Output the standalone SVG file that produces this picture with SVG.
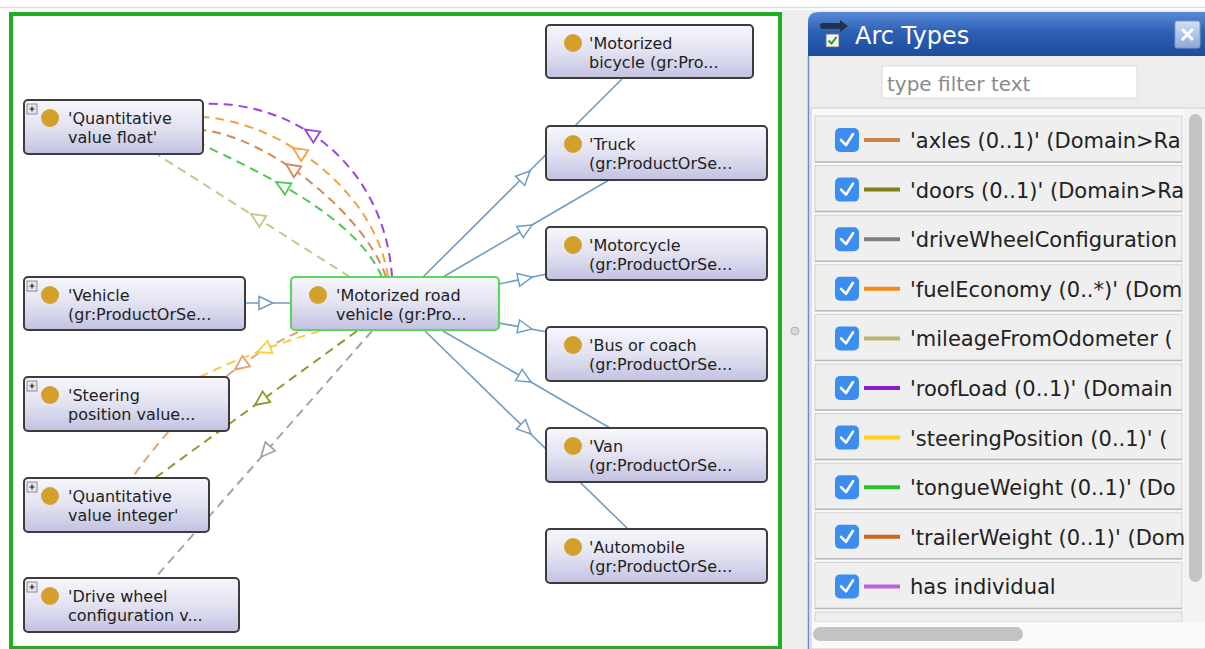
<svg xmlns="http://www.w3.org/2000/svg" xmlns:xlink="http://www.w3.org/1999/xlink" width="1205" height="649" viewBox="0 0 1205 649">
  <style>
    .node { fill: url(#nodeFill); stroke: #3c3c3c; stroke-width: 2; }
    .node.focus { stroke: #5cd65c; stroke-width: 2.2; }
    .dot { fill: #d4a02c; }
    .lbl { font-family: "DejaVu Sans", "Liberation Sans", sans-serif; font-size: 16px; fill: #222; }
    .plus rect { fill: #e6e6ee; stroke: #777; stroke-width: 0.8; }
    .plus path { stroke: #222; stroke-width: 1.2; }
    .isa { fill: none; stroke: #6f9cc4; stroke-width: 1.6; }
    .isa-head { fill: #fff; stroke: #6f9cc4; stroke-width: 1.5; }
    .arc { fill: none; stroke-width: 2; stroke-dasharray: 9 6; }
    .arc-head { fill: #fff; stroke-width: 1.8; }
    .row { fill: #efefef; stroke: #d2d2d2; stroke-width: 1; }
    .rowline { stroke: #b9b9b9; stroke-width: 1.5; }
    .chk { fill: #3b8ef0; }
    .tick { fill: none; stroke: #fff; stroke-width: 2.6; stroke-linecap: round; stroke-linejoin: round; }
    .key { stroke-width: 4; }
    .item { font-family: "DejaVu Sans", "Liberation Sans", sans-serif; font-size: 21px; fill: #222; }
  </style>
  <defs>
    <linearGradient id="nodeFill" x1="0" y1="0" x2="0" y2="1">
      <stop offset="0" stop-color="#f7f7fc"/>
      <stop offset="0.5" stop-color="#e2e2f2"/>
      <stop offset="1" stop-color="#c2c2e2"/>
    </linearGradient>
    <linearGradient id="headFill" x1="0" y1="0" x2="0" y2="1">
      <stop offset="0" stop-color="#5a8ad6"/>
      <stop offset="0.45" stop-color="#2d60b6"/>
      <stop offset="1" stop-color="#1d4c9c"/>
    </linearGradient>
    <linearGradient id="closeFill" x1="0" y1="0" x2="0" y2="1">
      <stop offset="0" stop-color="#d4e0f4"/>
      <stop offset="1" stop-color="#8ea8d6"/>
    </linearGradient>
    <path id="ah" d="M0,0 L-14,-6.5 L-14,6.5 Z"/>
  </defs>

  <!-- window background -->
  <rect x="0" y="0" width="1205" height="649" fill="#ffffff"/>
  <line x1="0" y1="7.5" x2="1205" y2="7.5" stroke="#dcdcdc" stroke-width="1.5"/>
  <rect x="782" y="10" width="423" height="639" fill="#ededed"/>
  <ellipse cx="795" cy="331" rx="4" ry="4" fill="#d6d6d6" stroke="#b4b4b4" stroke-width="1"/>

  <!-- graph pane -->
  <rect x="11" y="14" width="769" height="634" fill="#ffffff" stroke="#1fb01f" stroke-width="4"/>

  <!-- connectors -->
  <g id="connectors">
    <!-- subclass links -->
    <line class="isa" x1="245" y1="303" x2="291" y2="303"/>
    <line class="isa" x1="423" y1="277" x2="622" y2="79"/>
    <line class="isa" x1="443" y1="277" x2="609" y2="180"/>
    <line class="isa" x1="499" y1="284" x2="547" y2="274"/>
    <line class="isa" x1="499" y1="323" x2="547" y2="332"/>
    <line class="isa" x1="443" y1="331" x2="610" y2="428"/>
    <line class="isa" x1="425" y1="331" x2="628" y2="529"/>
    <use xlink:href="#ah" class="isa-head" transform="translate(273,303)"/>
    <use xlink:href="#ah" class="isa-head" transform="translate(530,171) rotate(-45)"/>
    <use xlink:href="#ah" class="isa-head" transform="translate(532,225) rotate(-30.3)"/>
    <use xlink:href="#ah" class="isa-head" transform="translate(532,277) rotate(-12)"/>
    <use xlink:href="#ah" class="isa-head" transform="translate(532,329) rotate(11)"/>
    <use xlink:href="#ah" class="isa-head" transform="translate(531,382) rotate(29.9)"/>
    <use xlink:href="#ah" class="isa-head" transform="translate(531,434) rotate(44.3)"/>

    <!-- property arcs to 'Quantitative value float' -->
    <path class="arc" stroke="#9b45d6" d="M392,277 C385,170 300,100 203,104"/>
    <path class="arc" stroke="#f2a444" d="M388,277 C375,190 280,122 203,117"/>
    <path class="arc" stroke="#d48a58" d="M386,277 C365,215 270,138 203,130"/>
    <path class="arc" stroke="#4ec84e" d="M382,277 C355,215 255,170 203,145"/>
    <line class="arc" stroke="#c8c48e" x1="350" y1="277" x2="158" y2="155"/>
    <use xlink:href="#ah" class="arc-head" stroke="#9b45d6" transform="translate(305,129.5) rotate(-147.3)"/>
    <use xlink:href="#ah" class="arc-head" stroke="#f2a444" transform="translate(293,148) rotate(-147.3)"/>
    <use xlink:href="#ah" class="arc-head" stroke="#d48a58" transform="translate(286,164) rotate(-145.8)"/>
    <use xlink:href="#ah" class="arc-head" stroke="#4ec84e" transform="translate(276,182) rotate(-150.3)"/>
    <use xlink:href="#ah" class="arc-head" stroke="#c8c48e" transform="translate(251,214) rotate(-147.6)"/>

    <!-- property arcs below -->
    <path class="arc" stroke="#f6d040" d="M320,331 Q255,350 200,377"/>
    <path class="arc" stroke="#e0a474" d="M298,332 Q205,375 132,478"/>
    <line class="arc" stroke="#8c9a2e" x1="357" y1="331" x2="155" y2="478"/>
    <line class="arc" stroke="#a4a4a4" x1="372" y1="331" x2="155" y2="578"/>
    <use xlink:href="#ah" class="arc-head" stroke="#f6d040" transform="translate(257,352) rotate(159)"/>
    <use xlink:href="#ah" class="arc-head" stroke="#e0a474" transform="translate(235,369.5) rotate(143.3)"/>
    <use xlink:href="#ah" class="arc-head" stroke="#8c9a2e" transform="translate(255,405) rotate(144)"/>
    <use xlink:href="#ah" class="arc-head" stroke="#a4a4a4" transform="translate(261,457) rotate(131.3)"/>
  </g>

  <!-- left column -->
  <g id="node-qv-float">
    <rect class="node" x="24" y="100" width="179" height="54" rx="4"/>
    <g class="plus"><rect x="27" y="104" width="10" height="10"/><path d="M29.5,109 H34.5 M32,106.5 V111.5"/></g>
    <circle class="dot" cx="50" cy="118" r="9"/>
    <text class="lbl" x="68" y="124">'Quantitative</text>
    <text class="lbl" x="68" y="143">value float'</text>
  </g>
  <g id="node-vehicle">
    <rect class="node" x="24" y="277" width="221" height="53" rx="4"/>
    <g class="plus"><rect x="27" y="281" width="10" height="10"/><path d="M29.5,286 H34.5 M32,283.5 V288.5"/></g>
    <circle class="dot" cx="50" cy="295" r="9"/>
    <text class="lbl" x="68" y="301">'Vehicle</text>
    <text class="lbl" x="68" y="320">(gr:ProductOrSe...</text>
  </g>
  <g id="node-steering">
    <rect class="node" x="24" y="377" width="205" height="54" rx="4"/>
    <g class="plus"><rect x="27" y="381" width="10" height="10"/><path d="M29.5,386 H34.5 M32,383.5 V388.5"/></g>
    <circle class="dot" cx="50" cy="395" r="9"/>
    <text class="lbl" x="68" y="401">'Steering</text>
    <text class="lbl" x="68" y="420">position value...</text>
  </g>
  <g id="node-qv-integer">
    <rect class="node" x="24" y="478" width="185" height="54" rx="4"/>
    <g class="plus"><rect x="27" y="482" width="10" height="10"/><path d="M29.5,487 H34.5 M32,484.5 V489.5"/></g>
    <circle class="dot" cx="50" cy="496" r="9"/>
    <text class="lbl" x="68" y="502">'Quantitative</text>
    <text class="lbl" x="68" y="521">value integer'</text>
  </g>
  <g id="node-drive-wheel">
    <rect class="node" x="24" y="578" width="215" height="54" rx="4"/>
    <g class="plus"><rect x="27" y="582" width="10" height="10"/><path d="M29.5,587 H34.5 M32,584.5 V589.5"/></g>
    <circle class="dot" cx="50" cy="596" r="9"/>
    <text class="lbl" x="68" y="602">'Drive wheel</text>
    <text class="lbl" x="68" y="621">configuration v...</text>
  </g>

  <!-- focus class -->
  <g id="node-motorized-road-vehicle">
    <rect class="node focus" x="291" y="277" width="208" height="53" rx="4"/>
    <circle class="dot" cx="318" cy="295" r="9"/>
    <text class="lbl" x="336" y="301">'Motorized road</text>
    <text class="lbl" x="336" y="320">vehicle (gr:Pro...</text>
  </g>

  <!-- subclasses -->
  <g id="node-motorized-bicycle">
    <rect class="node" x="546" y="25" width="207" height="53" rx="4"/>
    <circle class="dot" cx="573" cy="43" r="9"/>
    <text class="lbl" x="589" y="49">'Motorized</text>
    <text class="lbl" x="589" y="68">bicycle (gr:Pro...</text>
  </g>
  <g id="node-truck">
    <rect class="node" x="546" y="126" width="221" height="54" rx="4"/>
    <circle class="dot" cx="573" cy="144" r="9"/>
    <text class="lbl" x="589" y="150">'Truck</text>
    <text class="lbl" x="589" y="169">(gr:ProductOrSe...</text>
  </g>
  <g id="node-motorcycle">
    <rect class="node" x="546" y="227" width="221" height="53" rx="4"/>
    <circle class="dot" cx="573" cy="245" r="9"/>
    <text class="lbl" x="589" y="251">'Motorcycle</text>
    <text class="lbl" x="589" y="270">(gr:ProductOrSe...</text>
  </g>
  <g id="node-bus">
    <rect class="node" x="546" y="327" width="221" height="54" rx="4"/>
    <circle class="dot" cx="573" cy="345" r="9"/>
    <text class="lbl" x="589" y="351">'Bus or coach</text>
    <text class="lbl" x="589" y="370">(gr:ProductOrSe...</text>
  </g>
  <g id="node-van">
    <rect class="node" x="546" y="428" width="221" height="54" rx="4"/>
    <circle class="dot" cx="573" cy="446" r="9"/>
    <text class="lbl" x="589" y="452">'Van</text>
    <text class="lbl" x="589" y="471">(gr:ProductOrSe...</text>
  </g>
  <g id="node-automobile">
    <rect class="node" x="546" y="529" width="221" height="54" rx="4"/>
    <circle class="dot" cx="573" cy="547" r="9"/>
    <text class="lbl" x="589" y="553">'Automobile</text>
    <text class="lbl" x="589" y="572">(gr:ProductOrSe...</text>
  </g>

  <!-- Arc Types panel -->
  <g id="arc-types-panel">
    <path d="M808,56 V22 Q808,12 818,12 H1205 V56 Z" fill="url(#headFill)"/>
    <line x1="808.5" y1="56" x2="808.5" y2="649" stroke="#6a8ccc" stroke-width="1.5"/>
    <!-- header icon -->
    <rect x="820" y="23" width="22" height="6" rx="3" fill="#1d3550"/>
    <path d="M840,20 L848,26 L840,32 Z" fill="#1d3550"/>
    <rect x="826" y="34" width="13" height="13" fill="#f4f4f4" stroke="#666" stroke-width="0.8"/>
    <path d="M828.5,40.5 L831.5,43.5 L836.5,37" fill="none" stroke="#22a022" stroke-width="2"/>
    <text x="855" y="44" font-family="DejaVu Sans, Liberation Sans, sans-serif" font-size="24" fill="#ffffff">Arc Types</text>
    <!-- close box -->
    <rect x="1175" y="21" width="25" height="27" rx="2" fill="url(#closeFill)" stroke="#7f98c4" stroke-width="1"/>
    <path d="M1182,29 L1193,40 M1193,29 L1182,40" stroke="#ffffff" stroke-width="3"/>

    <!-- filter field -->
    <rect x="882" y="66" width="255" height="32" fill="#ffffff" stroke="#dcdcdc" stroke-width="1"/>
    <text x="887" y="91" font-family="DejaVu Sans, Liberation Sans, sans-serif" font-size="20" fill="#8a8a8a">type filter text</text>

    <!-- list of arc types -->
    <rect x="811" y="108" width="394" height="541" fill="#f8f8f8" stroke="#cfcfcf" stroke-width="1"/>
    <g id="row-axles">
      <rect class="row" x="815" y="116" width="367" height="46"/><line class="rowline" x1="815" y1="162" x2="1182" y2="162"/>
      <rect class="chk" x="835" y="128" width="24" height="24" rx="5"/><path class="tick" d="M841,140 L846,145 L853,134"/>
      <line class="key" x1="864" y1="140" x2="900" y2="140" stroke="#d08040"/>
      <text class="item" x="910" y="148">'axles (0..1)' (Domain&gt;Ra</text>
    </g>
    <g id="row-doors">
      <rect class="row" x="815" y="165.6" width="367" height="46"/><line class="rowline" x1="815" y1="211.6" x2="1182" y2="211.6"/>
      <rect class="chk" x="835" y="177.6" width="24" height="24" rx="5"/><path class="tick" d="M841,189.6 L846,194.6 L853,183.6"/>
      <line class="key" x1="864" y1="189.6" x2="900" y2="189.6" stroke="#80801a"/>
      <text class="item" x="910" y="197.6">'doors (0..1)' (Domain&gt;Ra</text>
    </g>
    <g id="row-drive-wheel">
      <rect class="row" x="815" y="215.2" width="367" height="46"/><line class="rowline" x1="815" y1="261.2" x2="1182" y2="261.2"/>
      <rect class="chk" x="835" y="227.2" width="24" height="24" rx="5"/><path class="tick" d="M841,239.2 L846,244.2 L853,233.2"/>
      <line class="key" x1="864" y1="239.2" x2="900" y2="239.2" stroke="#7f7f7f"/>
      <text class="item" x="910" y="247.2">'driveWheelConfiguration</text>
    </g>
    <g id="row-fuel-economy">
      <rect class="row" x="815" y="264.8" width="367" height="46"/><line class="rowline" x1="815" y1="310.8" x2="1182" y2="310.8"/>
      <rect class="chk" x="835" y="276.8" width="24" height="24" rx="5"/><path class="tick" d="M841,288.8 L846,293.8 L853,282.8"/>
      <line class="key" x1="864" y1="288.8" x2="900" y2="288.8" stroke="#f58a10"/>
      <text class="item" x="910" y="296.8">'fuelEconomy (0..*)' (Dom</text>
    </g>
    <g id="row-mileage">
      <rect class="row" x="815" y="314.4" width="367" height="46"/><line class="rowline" x1="815" y1="360.4" x2="1182" y2="360.4"/>
      <rect class="chk" x="835" y="326.4" width="24" height="24" rx="5"/><path class="tick" d="M841,338.4 L846,343.4 L853,332.4"/>
      <line class="key" x1="864" y1="338.4" x2="900" y2="338.4" stroke="#bdb76b"/>
      <text class="item" x="910" y="346.4">'mileageFromOdometer (</text>
    </g>
    <g id="row-roof-load">
      <rect class="row" x="815" y="364" width="367" height="46"/><line class="rowline" x1="815" y1="410" x2="1182" y2="410"/>
      <rect class="chk" x="835" y="376" width="24" height="24" rx="5"/><path class="tick" d="M841,388 L846,393 L853,382"/>
      <line class="key" x1="864" y1="388" x2="900" y2="388" stroke="#8a1ecc"/>
      <text class="item" x="910" y="396">'roofLoad (0..1)' (Domain</text>
    </g>
    <g id="row-steering-position">
      <rect class="row" x="815" y="413.6" width="367" height="46"/><line class="rowline" x1="815" y1="459.6" x2="1182" y2="459.6"/>
      <rect class="chk" x="835" y="425.6" width="24" height="24" rx="5"/><path class="tick" d="M841,437.6 L846,442.6 L853,431.6"/>
      <line class="key" x1="864" y1="437.6" x2="900" y2="437.6" stroke="#ffd21a"/>
      <text class="item" x="910" y="445.6">'steeringPosition (0..1)' (</text>
    </g>
    <g id="row-tongue-weight">
      <rect class="row" x="815" y="463.2" width="367" height="46"/><line class="rowline" x1="815" y1="509.2" x2="1182" y2="509.2"/>
      <rect class="chk" x="835" y="475.2" width="24" height="24" rx="5"/><path class="tick" d="M841,487.2 L846,492.2 L853,481.2"/>
      <line class="key" x1="864" y1="487.2" x2="900" y2="487.2" stroke="#2cc42c"/>
      <text class="item" x="910" y="495.2">'tongueWeight (0..1)' (Do</text>
    </g>
    <g id="row-trailer-weight">
      <rect class="row" x="815" y="512.8" width="367" height="46"/><line class="rowline" x1="815" y1="558.8" x2="1182" y2="558.8"/>
      <rect class="chk" x="835" y="524.8" width="24" height="24" rx="5"/><path class="tick" d="M841,536.8 L846,541.8 L853,530.8"/>
      <line class="key" x1="864" y1="536.8" x2="900" y2="536.8" stroke="#d2641e"/>
      <text class="item" x="910" y="544.8">'trailerWeight (0..1)' (Dom</text>
    </g>
    <g id="row-has-individual">
      <rect class="row" x="815" y="562.4" width="367" height="46"/><line class="rowline" x1="815" y1="608.4" x2="1182" y2="608.4"/>
      <rect class="chk" x="835" y="574.4" width="24" height="24" rx="5"/><path class="tick" d="M841,586.4 L846,591.4 L853,580.4"/>
      <line class="key" x1="864" y1="586.4" x2="900" y2="586.4" stroke="#c25cd8"/>
      <text class="item" x="910" y="594.4">has individual</text>
    </g>
    <rect class="row" x="815" y="612" width="367" height="10"/>
    <!-- scrollbars -->
    <rect x="1184" y="109" width="21" height="513" fill="#f3f3f3"/>
    <rect x="1189" y="114" width="13" height="468" rx="6.5" fill="#c3c3c3"/>
    <rect x="812" y="622" width="393" height="26" fill="#fafafa"/>
    <rect x="813" y="627" width="210" height="14" rx="7" fill="#c3c3c3"/>
  </g>
</svg>
